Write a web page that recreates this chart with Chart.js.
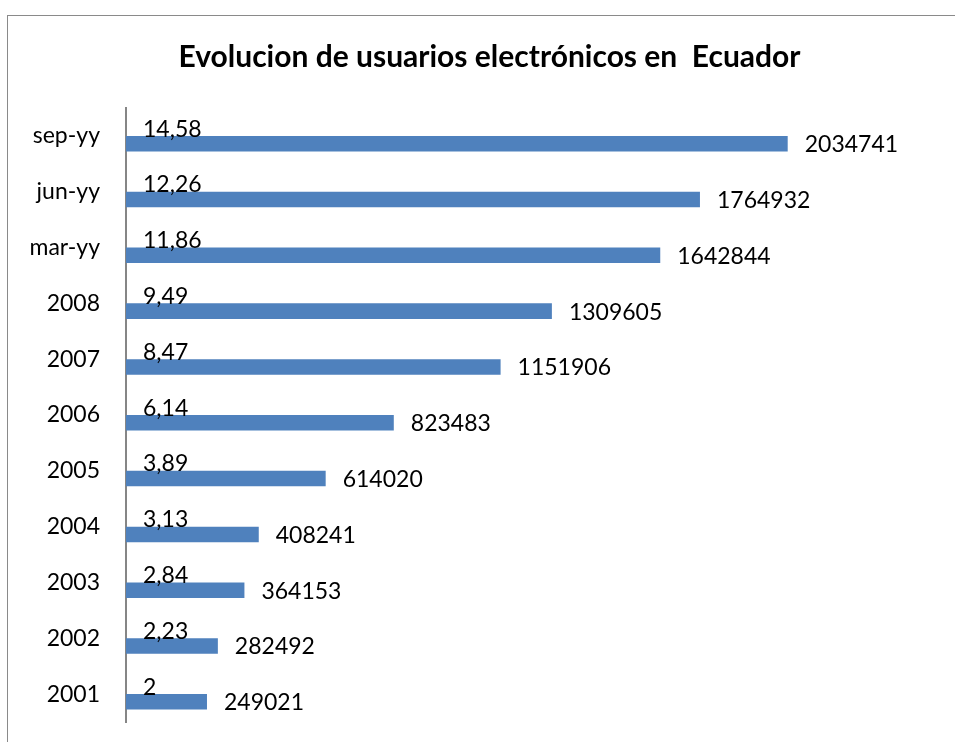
<!DOCTYPE html>
<html>
<head>
<meta charset="utf-8">
<title>Evolucion de usuarios electrónicos en Ecuador</title>
<script src="https://cdn.jsdelivr.net/npm/chart.js@4/dist/chart.umd.min.js"></script>
<style>
  html, body { margin: 0; padding: 0; background: #fff; overflow: hidden; }
  #wrap { position: relative; width: 955px; height: 742px; overflow: hidden; }
  #frame {
    position: absolute; left: 7px; top: 15px; width: 1200px; height: 1200px;
    border-left: 1.5px solid #8a8a8a; border-top: 1.5px solid #8a8a8a;
  }
  canvas { position: absolute; left: 0; top: 0; display: block; }
</style>
</head>
<body>
<div id="wrap">
  <div id="frame"></div>
  <canvas id="myChart" width="955" height="742"></canvas>
</div>
<script>
// chronological order, drawn bottom (2001) to top (sep-yy)
const periods = ["2001", "2002", "2003", "2004", "2005", "2006", "2007", "2008", "mar-yy", "jun-yy", "sep-yy"];
const penetration = [2, 2.23, 2.84, 3.13, 3.89, 6.14, 8.47, 9.49, 11.86, 12.26, 14.58];
const users = [249021, 282492, 364153, 408241, 614020, 823483, 1151906, 1309605, 1642844, 1764932, 2034741];

const title = "Evolucion de usuarios electrónicos en  Ecuador";
const barColor = "#4f81bd";
const font = "Lato";

function formatValue(v) {
  return String(v).replace(".", ",");
}

// bold heading, centred a little right of the canvas middle
const heading = {
  id: "heading",
  beforeDraw(chart) {
    const { ctx } = chart;
    ctx.save();
    ctx.fillStyle = "#000";
    ctx.font = `bold 30px ${font}`;
    ctx.textAlign = "center";
    ctx.textBaseline = "middle";
    ctx.fillText(title, 489.5, 57);
    ctx.restore();
  },
};

// value written just past the end of each bar
const valueLabels = {
  id: "valueLabels",
  afterDatasetsDraw(chart) {
    const { ctx } = chart;
    ctx.save();
    ctx.font = `23px ${font}`;
    ctx.fillStyle = "#000";
    ctx.textAlign = "left";
    ctx.textBaseline = "middle";
    chart.data.datasets.forEach((dataset, i) => {
      chart.getDatasetMeta(i).data.forEach((bar, j) => {
        ctx.fillText(formatValue(dataset.data[j]), bar.x + 17, bar.y + 1);
      });
    });
    ctx.restore();
  },
};

function initChart() {
  const data = {
    labels: periods.slice().reverse(),
    datasets: [
      {
        label: "%",
        data: penetration.slice().reverse(),
        backgroundColor: barColor,
      },
      {
        label: "usuarios",
        data: users.slice().reverse(),
        backgroundColor: barColor,
      },
    ],
  };

  const config = {
    type: "bar",
    data: data,
    plugins: [heading, valueLabels],
    options: {
      indexAxis: "y",
      responsive: false,
      animation: false,
      categoryPercentage: 0.556,
      barPercentage: 1,
      layout: {
        padding: { left: 0, right: 16, top: 108, bottom: 20 },
      },
      plugins: {
        legend: { display: false },
        tooltip: { enabled: false },
        title: { display: false },
      },
      scales: {
        x: {
          display: false,
          min: 0,
          max: 2500000,
        },
        y: {
          grid: { display: false, drawTicks: false },
          border: { display: true, color: "#868686", width: 2 },
          ticks: {
            color: "#000",
            padding: 26,
            font: { family: font, size: 23 },
          },
          afterFit(scale) {
            scale.width = 126;
            scale.paddingTop = 0;
            scale.paddingBottom = 0;
          },
        },
      },
    },
  };

  new Chart(document.getElementById("myChart"), config);
}

document.fonts.load(`23px ${font}`).then(() => document.fonts.load(`bold 30px ${font}`)).then(initChart, initChart);
</script>
</body>
</html>
